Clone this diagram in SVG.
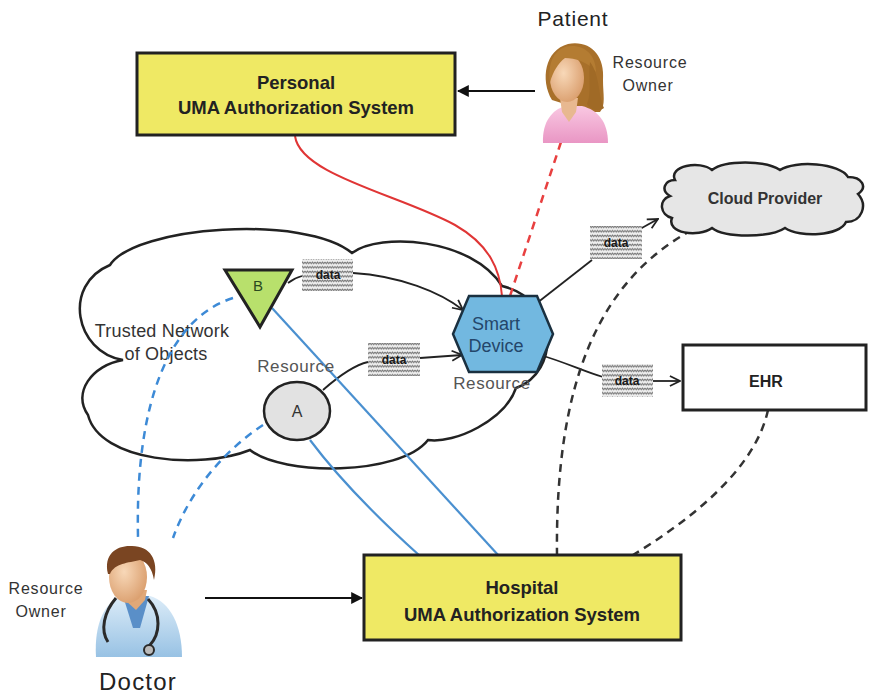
<svg xmlns="http://www.w3.org/2000/svg" width="869" height="696" viewBox="0 0 869 696">
  <defs>
    <style>
      text { font-family: "Liberation Sans", Arial, sans-serif; }
      .box { fill: #efe964; stroke: #222; stroke-width: 3; }
      .boxtxt { font-size: 18.5px; font-weight: bold; fill: #222; text-anchor: middle; }
      .lbl { font-size: 16px; fill: #333; letter-spacing: 0.8px; text-anchor: middle; }
      .res { font-size: 17px; fill: #555; letter-spacing: 0.6px; text-anchor: middle; }
      .data { fill: url(#hatch); }
      .datatxt { font-size: 12px; font-weight: bold; fill: #1a1a1a; text-anchor: middle; }
      .flow { fill: none; stroke: #222; stroke-width: 1.8; }
      .blue { fill: none; stroke: #4a90d0; stroke-width: 2.2; }
      .blued { fill: none; stroke: #3d8ad6; stroke-width: 2.5; stroke-dasharray: 8 6; }
      .blk { fill: none; stroke: #333; stroke-width: 2.5; stroke-dasharray: 8 6; }
    </style>
    <pattern id="hatch" width="5" height="4.5" patternUnits="userSpaceOnUse">
      <rect width="5" height="4.5" fill="#eeeeee"/>
      <path d="M0,1 l1.25,1.6 l1.25,-1.6 l1.25,1.6 l1.25,-1.6" fill="none" stroke="#6f6f6f" stroke-width="1"/>
    </pattern>
    <marker id="tri" viewBox="0 0 10 10" refX="9" refY="5" markerWidth="6" markerHeight="6" orient="auto">
      <path d="M0,0 L10,5 L0,10 z" fill="#111"/>
    </marker>
    <marker id="open" viewBox="0 0 10 10" refX="9" refY="5" markerWidth="7" markerHeight="7" orient="auto">
      <path d="M1,1 L9,5 L1,9" fill="none" stroke="#222" stroke-width="1.4"/>
    </marker>
    <radialGradient id="skin" cx="0.4" cy="0.4" r="0.7">
      <stop offset="0" stop-color="#f8d8b8"/>
      <stop offset="1" stop-color="#d89a68"/>
    </radialGradient>
    <linearGradient id="pink" x1="0" y1="0" x2="0" y2="1">
      <stop offset="0" stop-color="#f9c8e2"/>
      <stop offset="1" stop-color="#e996c4"/>
    </linearGradient>
    <linearGradient id="coat" x1="0" y1="0" x2="0" y2="1">
      <stop offset="0" stop-color="#dcecf8"/>
      <stop offset="1" stop-color="#98c2e4"/>
    </linearGradient>
  </defs>

  <rect width="869" height="696" fill="#fff"/>

  <!-- trusted network cloud -->
  <g id="trusted-network">
    <path d="M123,360 C75,352 62,285 110,265 C135,226 305,214 352,253 C380,232 472,238 502,286 C560,300 560,372 516,388 C505,420 455,444 428,440 C400,476 282,476 250,450 C200,470 100,462 88,415 C72,393 92,365 123,360 Z" fill="#fff" stroke="#222" stroke-width="2.5"/>
    <text class="lbl" x="162" y="337" style="font-size:18px;letter-spacing:0.2px">Trusted Network</text>
    <text class="lbl" x="166" y="360" style="font-size:18px;letter-spacing:0.2px">of Objects</text>
  </g>

  <!-- connectors -->
  <g id="connectors">
    <line x1="535" y1="91" x2="458" y2="91" stroke="#111" stroke-width="2" marker-end="url(#tri)"/>
    <line x1="205" y1="598" x2="362" y2="598" stroke="#111" stroke-width="2" marker-end="url(#tri)"/>
    <path class="flow" d="M288,283 C293,279 298,277 302,276"/>
    <path class="flow" d="M353,273 C400,276 440,292 463,310" marker-end="url(#open)"/>
    <path class="flow" d="M323,390 C340,375 355,365 368,362"/>
    <path class="flow" d="M420,358 L462,355" marker-end="url(#open)"/>
    <path class="flow" d="M537,303 L592,260"/>
    <path class="flow" d="M640,229 L658,219" marker-end="url(#open)"/>
    <path class="flow" d="M540,355 C565,362 585,372 603,377"/>
    <path class="flow" d="M653,381 L680,381" marker-end="url(#open)"/>
    <path d="M295,136 C300,175 400,195 455,225 C490,245 500,270 502,296" fill="none" stroke="#e03535" stroke-width="2"/>
    <path d="M561,142 L510,296" fill="none" stroke="#e84040" stroke-width="2.5" stroke-dasharray="8 6"/>
    <path class="blue" d="M272,308 L499,556"/>
    <path class="blue" d="M310,440 C340,480 380,520 420,556"/>
    <path class="blued" d="M233,298 C170,318 135,400 138,537"/>
    <path class="blued" d="M263,425 C225,450 190,490 173,538"/>
    <path class="blk" d="M692,230 C600,280 555,380 557,555"/>
    <path class="blk" d="M768,410 C755,470 690,520 633,555"/>
  </g>

  <!-- data labels -->
  <g id="data-labels">
    <rect class="data" x="302" y="259" width="51" height="32"/>
    <text class="datatxt" x="328" y="279">data</text>
    <rect class="data" x="368" y="343" width="52" height="33"/>
    <text class="datatxt" x="394" y="364">data</text>
    <rect class="data" x="590" y="226" width="52" height="33"/>
    <text class="datatxt" x="616" y="247">data</text>
    <rect class="data" x="602" y="364" width="51" height="33"/>
    <text class="datatxt" x="627" y="385">data</text>
  </g>

  <g id="personal-uma">
    <rect class="box" x="137" y="53" width="318" height="82"/>
    <text class="boxtxt" x="296" y="89">Personal</text>
    <text class="boxtxt" x="296" y="114">UMA Authorization System</text>
  </g>

  <g id="hospital-uma">
    <rect class="box" x="364" y="555" width="317" height="85"/>
    <text class="boxtxt" x="522" y="594">Hospital</text>
    <text class="boxtxt" x="522" y="621">UMA Authorization System</text>
  </g>

  <g id="node-b">
    <path d="M225,270 L292,270 L260,327 Z" fill="#b8e06c" stroke="#222" stroke-width="3" stroke-linejoin="miter"/>
    <text x="258" y="291" font-size="15" fill="#2a4a20" text-anchor="middle">B</text>
  </g>

  <g id="node-a">
    <ellipse cx="297" cy="411" rx="33" ry="29" fill="#e2e2e2" stroke="#222" stroke-width="2.5"/>
    <text x="297" y="417" font-size="16" fill="#333" text-anchor="middle">A</text>
    <text class="res" x="296" y="372">Resource</text>
  </g>

  <g id="smart-device">
    <path d="M453,334 L469,296 L537,296 L553,334 L537,372 L469,372 Z" fill="#72b8e0" stroke="#1a3040" stroke-width="2.5"/>
    <text x="496" y="330" font-size="18" fill="#24466a" text-anchor="middle">Smart</text>
    <text x="496" y="352" font-size="18" fill="#24466a" text-anchor="middle">Device</text>
    <text class="res" x="492" y="389">Resource</text>
  </g>

  <g id="cloud-provider">
    <path d="M675,180 C668,166 700,160 712,170 C725,160 765,160 780,170 C795,160 840,163 848,177 C862,177 868,187 858,194 C868,205 862,222 846,222 C840,236 800,238 785,228 C770,238 725,238 712,228 C698,238 666,233 672,218 C660,215 658,200 670,196 C660,190 665,180 675,180 Z" fill="#e6e6e6" stroke="#222" stroke-width="2.5"/>
    <text x="765" y="204" font-size="16" font-weight="bold" fill="#333" text-anchor="middle">Cloud Provider</text>
  </g>

  <g id="ehr">
    <rect x="683" y="345" width="183" height="65" fill="#fff" stroke="#222" stroke-width="3"/>
    <text x="766" y="387" font-size="16" font-weight="bold" fill="#222" text-anchor="middle">EHR</text>
  </g>

  <!-- patient figure -->
  <g id="patient">
    <text x="573" y="26" font-size="21" fill="#222" text-anchor="middle" letter-spacing="0.8">Patient</text>
    <text class="lbl" x="650" y="68">Resource</text>
    <text class="lbl" x="648" y="91">Owner</text>
    <path d="M552,100 C540,80 545,50 568,44 C590,40 605,55 603,80 C603,95 606,105 600,112 L590,112 Z" fill="#a8702a"/>
    <path d="M543,143 C542,122 552,110 565,106 L582,106 C598,110 608,122 608,143 Z" fill="url(#pink)"/>
    <path d="M560,98 L578,98 L576,112 L569,122 L562,112 Z" fill="#e8b890"/>
    <ellipse cx="567" cy="78" rx="17" ry="24" fill="url(#skin)"/>
    <path d="M550,82 C547,58 558,46 572,46 C586,46 596,56 596,72 C588,62 575,58 565,58 C558,63 553,72 550,82 Z" fill="#b47c32"/>
    <path d="M590,62 C600,75 598,95 604,108 C598,112 590,110 587,104 C592,92 588,78 590,62 Z" fill="#a06a26"/>
  </g>

  <!-- doctor figure -->
  <g id="doctor">
    <text class="lbl" x="46" y="594">Resource</text>
    <text class="lbl" x="41" y="617">Owner</text>
    <path d="M96,657 C94,625 104,602 122,596 L150,596 C170,602 182,625 182,657 Z" fill="url(#coat)"/>
    <path d="M123,596 L149,596 L140,628 L133,628 Z" fill="#5a8fc8"/>
    <path d="M121,590 L147,590 L145,600 L136,610 L125,600 Z" fill="#e0a878"/>
    <ellipse cx="128" cy="577" rx="19" ry="26" fill="url(#skin)"/>
    <path d="M108,574 C103,553 118,545 132,546 C150,546 159,560 154,580 C152,568 147,562 140,560 C128,563 115,563 110,574 Z" fill="#7a4522"/>
    <path d="M116,598 C104,612 100,630 108,642" fill="none" stroke="#2a2a2a" stroke-width="3"/>
    <path d="M148,599 C162,614 160,634 150,645" fill="none" stroke="#2a2a2a" stroke-width="3"/>
    <circle cx="149" cy="650" r="5" fill="#bbb" stroke="#2a2a2a" stroke-width="2"/>
    <text x="138" y="690" font-size="24" fill="#222" text-anchor="middle" letter-spacing="1.2">Doctor</text>
  </g>
</svg>
